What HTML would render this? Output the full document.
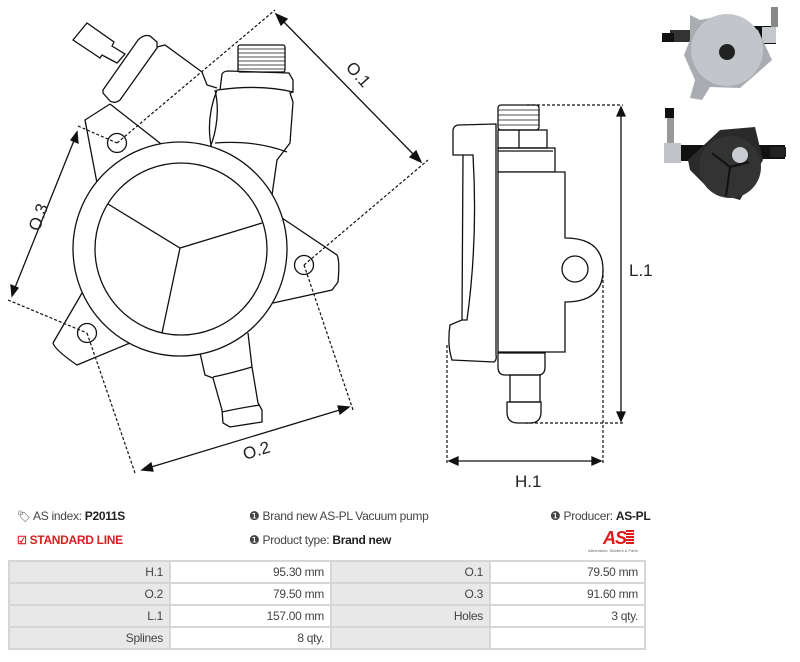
<!DOCTYPE html>
<html><head><meta charset="utf-8"><style>
html,body{margin:0;padding:0;background:#fff;width:800px;height:662px;overflow:hidden;font-family:"Liberation Sans",sans-serif;}
.t{position:absolute;font-size:12px;color:#444;white-space:nowrap;letter-spacing:-0.3px}
b{color:#222}
table{position:absolute;left:8px;top:560px;border-collapse:collapse;font-size:12px;color:#444}
td{border:2px solid #d6d6d6;height:20px;padding:0 6px;text-align:right;letter-spacing:-0.3px}
td.l{background:#e8e8e8}
</style></head><body>
<svg width="800" height="500" style="position:absolute;left:0;top:0" fill="none" stroke="#111" stroke-width="1.3" font-family="Liberation Sans, sans-serif">
<polygon points="73,40 87,23 114,42 112,46 125,54 117,63 102,55 100,58 73,40" fill="#fff"/>
<path d="M103,90 L138,40 Q144,34 150,36 L157,42 L157,48 L120,100 Q115,104 110,101 L103,93 Z" fill="#fff"/>
<path d="M157,47 L165,45 L202,72 L207,85 L217,88"/>
<path d="M215,90 Q222,120 208,153"/>
<path d="M110,104 L165,147"/>
<path d="M110,104 L85,120 L97,183"/>
<rect x="238" y="45" width="47" height="27" rx="2"/>
<g stroke-width="0.8"><line x1="238" y1="49" x2="285" y2="49"/><line x1="238" y1="53" x2="285" y2="53"/><line x1="238" y1="57" x2="285" y2="57"/><line x1="238" y1="61" x2="285" y2="61"/><line x1="238" y1="65" x2="285" y2="65"/><line x1="238" y1="69" x2="285" y2="69"/></g>
<path d="M220,90 L222,74 Q224,71 228,71 L289,73 L293,80 L293,92 L290,93 L293,102 L290,143 L277,160 L272,195"/>
<path d="M217,90 Q260,84 293,92"/>
<path d="M217,90 Q205,120 212,150"/>
<path d="M215,143 Q255,140 287,152"/>
<path d="M282,218 L337,255 Q340,260 338,282 L332,290 L273,303"/>
<path d="M82,293 L53,343 Q55,350 77,365 L130,343"/>
<path d="M200,353 L205,375 L213,378 L222,410 L223,423 L230,427 L262,422 L262,410 L258,403 L252,367 L248,333"/>
<path d="M213,377 Q232,373 252,367"/><path d="M222,412 Q240,408 260,405"/>
<circle cx="180" cy="249" r="107" fill="#fff"/>
<circle cx="181" cy="249" r="86"/>
<path d="M108,204 L180,248 L262,223 M180,248 L162,333"/>
<circle cx="117" cy="143" r="9.5"/><circle cx="304" cy="265" r="9.5"/><circle cx="87" cy="333" r="9.5"/>
<g stroke-dasharray="3,2" stroke-width="1.2">
<line x1="117" y1="143" x2="275" y2="10"/><line x1="304" y1="265" x2="428" y2="160"/>
<line x1="78" y1="126" x2="117" y2="143"/><line x1="8" y1="300" x2="87" y2="333"/>
<line x1="87" y1="333" x2="135" y2="473"/><line x1="304" y1="265" x2="353" y2="410"/>
</g>
<g fill="#111">
<line x1="280" y1="18" x2="417" y2="158"/><polygon points="276,14 287,19 281,25"/><polygon points="421,162 410,157 416,151"/>
<line x1="75" y1="138" x2="14" y2="290"/><polygon points="77,132 78,143 71,140"/><polygon points="12,296 11,285 18,288"/>
<line x1="148" y1="468" x2="343" y2="409"/><polygon points="142,470 151,463 153,471"/><polygon points="349,407 340,414 338,406"/>
</g>
<g fill="#222" stroke="none" font-size="17">
<text transform="translate(345,68) rotate(48)">O.1</text>
<text transform="translate(39,232) rotate(-70)">O.3</text>
<text transform="translate(245,460) rotate(-17)">O.2</text>
<text x="629" y="276">L.1</text>
<text x="515" y="487">H.1</text>
</g>
<rect x="498" y="105" width="41" height="25" rx="3"/>
<g stroke-width="0.8"><line x1="498" y1="110" x2="539" y2="110"/><line x1="498" y1="115" x2="539" y2="115"/><line x1="498" y1="120" x2="539" y2="120"/><line x1="498" y1="125" x2="539" y2="125"/></g>
<rect x="498" y="130" width="49" height="18"/><line x1="519" y1="130" x2="519" y2="148"/>
<rect x="498" y="148" width="57" height="24"/><line x1="498" y1="151" x2="553" y2="151"/>
<path d="M498,172 L565,172 L565,238 Q603,238 603,270 Q603,302 565,302 L565,352 L498,352 Z" fill="#fff"/>
<circle cx="575" cy="269" r="13"/>
<path d="M496,124 L458,125 Q453,126 453,131 L453,155 L463,155 L462,320 L450,325 Q447,345 452,360 L494,362 Q497,360 496,355 Z"/>
<path d="M463,155 L473,155 Q478,240 467,320 L462,320"/>
<path d="M498,353 L545,353 L545,367 Q545,375 538,375 L505,375 Q498,375 498,367 Z"/>
<rect x="510" y="375" width="30" height="27"/>
<path d="M507,402 L541,402 L541,412 Q541,423 530,423 L518,423 Q507,423 507,412 Z"/>
<g stroke-dasharray="3,2" stroke-width="1.2">
<line x1="527" y1="105" x2="623" y2="105"/><line x1="525" y1="423" x2="623" y2="423"/>
<line x1="447" y1="345" x2="447" y2="464"/><line x1="603" y1="270" x2="603" y2="464"/>
</g>
<g fill="#111">
<line x1="621" y1="113" x2="621" y2="415"/><polygon points="621,107 625,116 617,116"/><polygon points="621,421 625,412 617,412"/>
<line x1="455" y1="461" x2="595" y2="461"/><polygon points="449,461 458,457 458,465"/><polygon points="601,461 592,457 592,465"/>
</g>
<g stroke="none">
<rect x="670" y="30" width="28" height="12" fill="#333"/><rect x="662" y="33" width="12" height="9" fill="#111"/>
<rect x="750" y="26" width="26" height="18" fill="#111"/><rect x="762" y="27" width="14" height="16" fill="#c4c8cc"/><rect x="771" y="7" width="7" height="20" fill="#888"/>
<polygon points="690,15 700,20 725,15 758,30 772,60 755,75 740,88 710,87 702,100 690,98 695,80 684,55 690,40" fill="#a9adb1"/>
<circle cx="727" cy="50" r="36" fill="#c2c6ca"/>
<circle cx="727" cy="52" r="8" fill="#222"/>
<rect x="664" y="145" width="40" height="16" fill="#111"/><rect x="664" y="143" width="17" height="20" fill="#c0c4c8"/><rect x="667" y="113" width="7" height="30" fill="#999"/><rect x="665" y="108" width="9" height="10" fill="#111"/>
<rect x="755" y="145" width="30" height="14" fill="#111"/><rect x="770" y="147" width="16" height="10" fill="#222"/>
<polygon points="688,160 720,130 755,127 763,160 740,200 712,192 690,170" fill="#2a2a2a"/>
<circle cx="730" cy="167" r="31" fill="#333"/>
<circle cx="740" cy="155" r="8" fill="#c8ccd0"/>
</g>
<path d="M730,167 L712,153 M730,167 L749,162 M730,167 L726,196" stroke="#111" stroke-width="2"/>
</svg>

<div class="t" style="left:17px;top:509px"><span style="font-size:11px">&#x1F3F7;</span> AS index: <b>P2011S</b></div>
<div class="t" style="left:17px;top:533px;color:#d62020;font-weight:bold"><span style="font-size:11px">&#9745;</span> STANDARD LINE</div>
<div class="t" style="left:249px;top:509px">&#10102; Brand new AS-PL Vacuum pump</div>
<div class="t" style="left:249px;top:533px">&#10102; Product type: <b>Brand new</b></div>
<div class="t" style="left:550px;top:509px">&#10102; Producer: <b>AS-PL</b></div>
<div style="position:absolute;left:603px;top:528px;font:italic bold 18px 'Liberation Sans',sans-serif;color:#e01818;letter-spacing:-1px">AS<span style="display:inline-block;width:8px;height:14px;background:repeating-linear-gradient(#e01818 0 2px,#fff 2px 3px)"></span></div>
<div style="position:absolute;left:588px;top:548px;font-size:4px;color:#666">Alternators, Starters &amp; Parts</div>
<table>
<tr><td class="l" style="width:147px">H.1</td><td style="width:147px">95.30 mm</td><td class="l" style="width:145px">O.1</td><td style="width:141px">79.50 mm</td></tr>
<tr><td class="l">O.2</td><td>79.50 mm</td><td class="l">O.3</td><td>91.60 mm</td></tr>
<tr><td class="l">L.1</td><td>157.00 mm</td><td class="l">Holes</td><td>3 qty.</td></tr>
<tr><td class="l">Splines</td><td>8 qty.</td><td class="l"></td><td></td></tr>
</table>
</body></html>
